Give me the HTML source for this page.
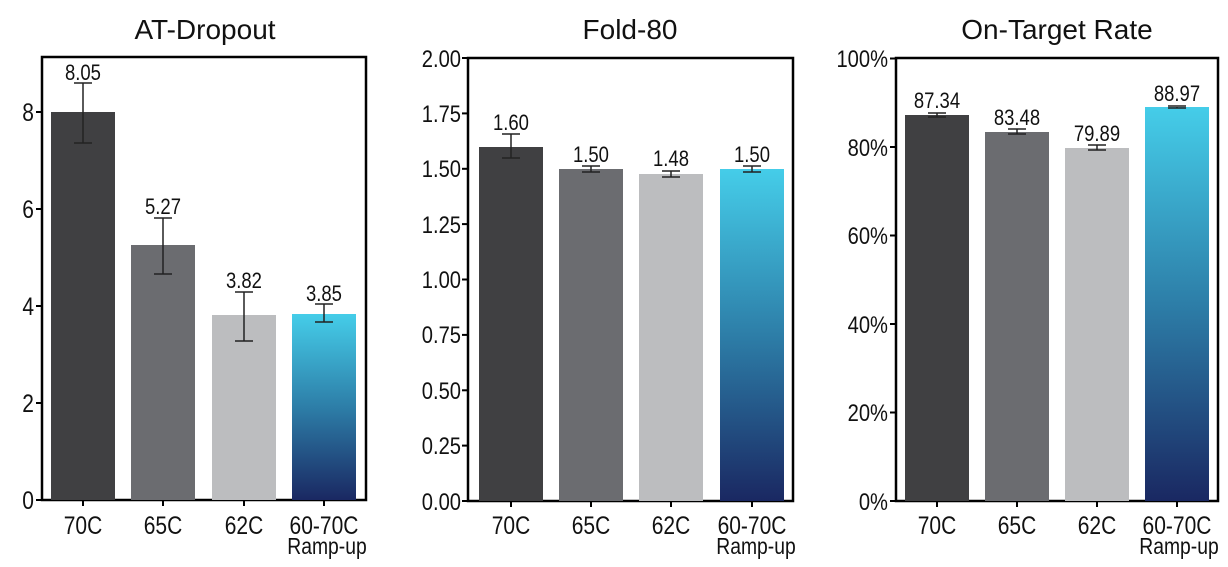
<!DOCTYPE html>
<html><head><meta charset="utf-8"><style>
html,body{margin:0;padding:0;background:#fff}
svg{display:block}
text{font-family:"Liberation Sans",sans-serif;fill:#111}
.n text{transform-box:fill-box;transform-origin:center;transform:scaleX(0.84)}
.r text{transform-box:fill-box;transform-origin:right center;transform:scaleX(0.84)}
</style></head><body>
<svg width="1228" height="567" viewBox="0 0 1228 567">
<defs>
<linearGradient id="g" x1="0" y1="0" x2="0" y2="1">
<stop offset="0" stop-color="#45cde9"/><stop offset="0.5" stop-color="#2d7ea8"/><stop offset="1" stop-color="#1a2862"/>
</linearGradient>
</defs>
<g stroke="#000" stroke-width="2.5" fill="none">
<rect x="42" y="57" width="324" height="443"/>
<rect x="468" y="58" width="325" height="443"/>
<rect x="896" y="58" width="322" height="443"/>
</g>
<text x="205" y="39" font-size="28" text-anchor="middle">AT-Dropout</text>
<text x="630" y="39" font-size="28" text-anchor="middle">Fold-80</text>
<text x="1057" y="39" font-size="28" text-anchor="middle">On-Target Rate</text>

<!-- Panel 1 -->
<rect x="51" y="112" width="64" height="388" fill="#404042"/>
<rect x="131" y="245" width="64" height="255" fill="#6b6c70"/>
<rect x="212" y="315" width="64" height="185" fill="#bcbdbf"/>
<rect x="292" y="314" width="64" height="186" fill="url(#g)"/>
<g stroke="#222" stroke-width="1.5">
<line x1="83" y1="83" x2="83" y2="143"/><line x1="74" y1="83" x2="92" y2="83"/><line x1="74" y1="143" x2="92" y2="143"/>
<line x1="163" y1="218" x2="163" y2="274"/><line x1="154" y1="218" x2="172" y2="218"/><line x1="154" y1="274" x2="172" y2="274"/>
<line x1="244" y1="292" x2="244" y2="341"/><line x1="235" y1="292" x2="253" y2="292"/><line x1="235" y1="341" x2="253" y2="341"/>
<line x1="324" y1="304" x2="324" y2="322"/><line x1="315" y1="304" x2="333" y2="304"/><line x1="315" y1="322" x2="333" y2="322"/>
</g>
<g class="n" font-size="22" text-anchor="middle">
<text x="83" y="80">8.05</text><text x="163" y="214">5.27</text><text x="244" y="288">3.82</text><text x="324" y="301">3.85</text>
</g>
<g stroke="#000" stroke-width="2">
<line x1="36" y1="500" x2="42" y2="500"/><line x1="36" y1="403" x2="42" y2="403"/><line x1="36" y1="306" x2="42" y2="306"/><line x1="36" y1="209" x2="42" y2="209"/><line x1="36" y1="112" x2="42" y2="112"/>
<line x1="83" y1="500" x2="83" y2="506"/><line x1="163" y1="500" x2="163" y2="506"/><line x1="244" y1="500" x2="244" y2="506"/><line x1="324" y1="500" x2="324" y2="506"/>
</g>
<g class="r" font-size="25" text-anchor="end">
<text x="34" y="509">0</text><text x="34" y="412">2</text><text x="34" y="315">4</text><text x="34" y="218">6</text><text x="34" y="121">8</text>
</g>
<g class="n" font-size="25" text-anchor="middle">
<text x="83" y="534">70C</text><text x="163" y="534">65C</text><text x="244" y="534">62C</text><text x="324" y="534">60-70C</text>
<text x="327" y="554" font-size="23">Ramp-up</text>
</g>

<!-- Panel 2 -->
<rect x="479" y="147" width="64" height="354" fill="#404042"/>
<rect x="559" y="169" width="64" height="332" fill="#6b6c70"/>
<rect x="639" y="174" width="64" height="327" fill="#bcbdbf"/>
<rect x="720" y="169" width="64" height="332" fill="url(#g)"/>
<g stroke="#222" stroke-width="1.5">
<line x1="511" y1="134" x2="511" y2="158"/><line x1="502" y1="134" x2="520" y2="134"/><line x1="502" y1="158" x2="520" y2="158"/>
<line x1="591" y1="166" x2="591" y2="172"/><line x1="582" y1="166" x2="600" y2="166"/><line x1="582" y1="172" x2="600" y2="172"/>
<line x1="671" y1="171" x2="671" y2="177"/><line x1="662" y1="171" x2="680" y2="171"/><line x1="662" y1="177" x2="680" y2="177"/>
<line x1="752" y1="166" x2="752" y2="172"/><line x1="743" y1="166" x2="761" y2="166"/><line x1="743" y1="172" x2="761" y2="172"/>
</g>
<g class="n" font-size="22" text-anchor="middle">
<text x="511" y="130">1.60</text><text x="591" y="162">1.50</text><text x="671" y="166">1.48</text><text x="752" y="162">1.50</text>
</g>
<g stroke="#000" stroke-width="2">
<line x1="462" y1="501" x2="468" y2="501"/><line x1="462" y1="445.6" x2="468" y2="445.6"/><line x1="462" y1="390.3" x2="468" y2="390.3"/><line x1="462" y1="334.9" x2="468" y2="334.9"/><line x1="462" y1="279.5" x2="468" y2="279.5"/><line x1="462" y1="224.1" x2="468" y2="224.1"/><line x1="462" y1="168.8" x2="468" y2="168.8"/><line x1="462" y1="113.4" x2="468" y2="113.4"/><line x1="462" y1="58" x2="468" y2="58"/>
<line x1="511" y1="501" x2="511" y2="507"/><line x1="591" y1="501" x2="591" y2="507"/><line x1="671" y1="501" x2="671" y2="507"/><line x1="752" y1="501" x2="752" y2="507"/>
</g>
<g class="r" font-size="24" text-anchor="end">
<text x="461" y="510">0.00</text><text x="461" y="454">0.25</text><text x="461" y="399">0.50</text><text x="461" y="343">0.75</text><text x="461" y="288">1.00</text><text x="461" y="233">1.25</text><text x="461" y="177">1.50</text><text x="461" y="122">1.75</text><text x="461" y="67">2.00</text>
</g>
<g class="n" font-size="25" text-anchor="middle">
<text x="511" y="534">70C</text><text x="591" y="534">65C</text><text x="671" y="534">62C</text><text x="752" y="534">60-70C</text>
<text x="756" y="554" font-size="23">Ramp-up</text>
</g>

<!-- Panel 3 -->
<rect x="905" y="115" width="64" height="386" fill="#404042"/>
<rect x="985" y="132" width="64" height="369" fill="#6b6c70"/>
<rect x="1065" y="148" width="64" height="353" fill="#bcbdbf"/>
<rect x="1145" y="107" width="64" height="394" fill="url(#g)"/>
<g stroke="#222" stroke-width="1.5">
<line x1="937" y1="113" x2="937" y2="117"/><line x1="928" y1="113" x2="946" y2="113"/><line x1="928" y1="117" x2="946" y2="117"/>
<line x1="1017" y1="129" x2="1017" y2="134"/><line x1="1008" y1="129" x2="1026" y2="129"/><line x1="1008" y1="134" x2="1026" y2="134"/>
<line x1="1097" y1="145" x2="1097" y2="150"/><line x1="1088" y1="145" x2="1106" y2="145"/><line x1="1088" y1="150" x2="1106" y2="150"/>
<line x1="1177" y1="107" x2="1177" y2="108"/><line x1="1168" y1="106" x2="1186" y2="106"/><line x1="1168" y1="108" x2="1186" y2="108"/>
</g>
<g class="n" font-size="22" text-anchor="middle">
<text x="937" y="108">87.34</text><text x="1017" y="125">83.48</text><text x="1097" y="141">79.89</text><text x="1177" y="101">88.97</text>
</g>
<g stroke="#000" stroke-width="2">
<line x1="890" y1="501" x2="896" y2="501"/><line x1="890" y1="412.5" x2="896" y2="412.5"/><line x1="890" y1="324" x2="896" y2="324"/><line x1="890" y1="235.5" x2="896" y2="235.5"/><line x1="890" y1="147" x2="896" y2="147"/><line x1="890" y1="58.5" x2="896" y2="58.5"/>
<line x1="937" y1="501" x2="937" y2="507"/><line x1="1017" y1="501" x2="1017" y2="507"/><line x1="1097" y1="501" x2="1097" y2="507"/><line x1="1177" y1="501" x2="1177" y2="507"/>
</g>
<g class="r" font-size="24" text-anchor="end">
<text x="888" y="510">0%</text><text x="888" y="421">20%</text><text x="888" y="333">40%</text><text x="888" y="244">60%</text><text x="888" y="156">80%</text><text x="888" y="67">100%</text>
</g>
<g class="n" font-size="25" text-anchor="middle">
<text x="937" y="534">70C</text><text x="1017" y="534">65C</text><text x="1097" y="534">62C</text><text x="1177" y="534">60-70C</text>
<text x="1179" y="554" font-size="23">Ramp-up</text>
</g>
</svg>
</body></html>
